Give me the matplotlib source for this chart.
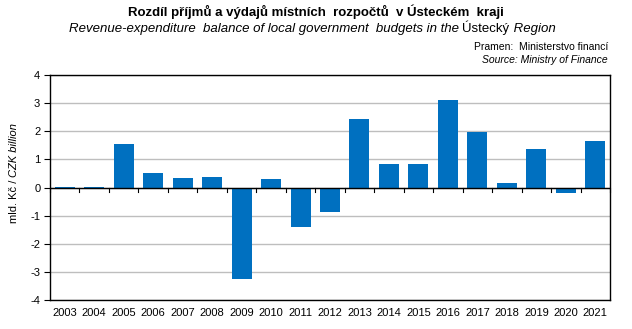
#!/usr/bin/env python3
"""Revenue-expenditure balance of local government budgets, Ústecký Region."""

import matplotlib

matplotlib.use("Agg")
import matplotlib.pyplot as plt
import numpy as np

plt.rcParams["font.family"] = ["Liberation Sans", "DejaVu Sans"]

years = [str(y) for y in range(2003, 2022)]
balance = [0.03, 0.03, 1.55, 0.52, 0.34, 0.37, -3.24, 0.30, -1.39, -0.86,
           2.44, 0.84, 0.84, 3.11, 1.99, 0.16, 1.37, -0.21, 1.65]
y_ticks = [-4, -3, -2, -1, 0, 1, 2, 3, 4]

BAR = "#0070C0"
GRID = "#BEBEBE"

fig = plt.figure(figsize=(6.32, 3.29), dpi=100)
W, H = 632, 329
ax = fig.add_axes([50 / W, 1 - 300 / H, 560 / W, 225 / H])

x = np.arange(len(years))
ax.bar(x, balance, width=0.68, color=BAR, zorder=3)
ax.set_xlim(-0.5, len(years) - 0.5)
ax.set_ylim(y_ticks[0], y_ticks[-1])
ax.set_yticks(y_ticks)
ax.set_yticklabels([str(t) for t in y_ticks], fontsize=8)
ax.set_xticks(x)
ax.set_xticklabels(years, fontsize=8)
ax.tick_params(axis="x", length=0, pad=6)
ax.tick_params(axis="y", length=4, width=0.8, pad=3)
ax.grid(axis="y", color=GRID, lw=1, zorder=0)
for sp in ax.spines.values():
    sp.set_color("black")
    sp.set_linewidth(1)

# category axis through zero: short downward ticks between the bars
ax.axhline(0, color="black", lw=1, zorder=4)
for b in np.arange(len(years) + 1) - 0.5:
    ax.plot([b, b], [0, -0.15], color="black", lw=0.8, zorder=4, clip_on=False)

fig.canvas.draw()
renderer = fig.canvas.get_renderer()


def run_text(parts, x0, y0, rotation=0, size=9):
    """Draw a centred line of text made of pieces with different styles."""
    artists = []
    for txt, kw in parts:
        t = fig.text(0, 0, txt, fontsize=size, rotation=rotation,
                     ha="left", va="baseline", rotation_mode="anchor", **kw)
        artists.append(t)
    sizes = []
    for t in artists:
        bb = t.get_window_extent(renderer)
        sizes.append(bb.height if rotation else bb.width)
    pos = (y0 if rotation else x0) - sum(sizes) / 2
    for t, s in zip(artists, sizes):
        if rotation:
            t.set_position((x0 / W, pos / H))
        else:
            t.set_position((pos / W, y0 / H))
        pos += s


fig.text(316 / W, 1 - 12 / H, "Rozdíl příjmů a výdajů místních  rozpočtů  v Ústeckém  kraji",
         ha="center", va="center", fontsize=9.5, fontweight="bold")

run_text([("Revenue-expenditure  balance of local government  budgets in the ", {"style": "italic"}),
          ("Ústecký", {}),
          (" Region", {"style": "italic"})],
         312, H - 32, size=9.5)

fig.text(608 / W, 1 - 47 / H, "Pramen:  Ministerstvo financí", ha="right", va="center", fontsize=7.5)
fig.text(608 / W, 1 - 60 / H, "Source: Ministry of Finance", ha="right", va="center",
         fontsize=7.5, style="italic")

# y label: upright Czech unit, italic English unit
run_text([("mld. Kč / ", {}), ("CZK billion", {"style": "italic"})],
         17, H - 173, rotation=90, size=8)

fig.savefig("out.png", dpi=100)
